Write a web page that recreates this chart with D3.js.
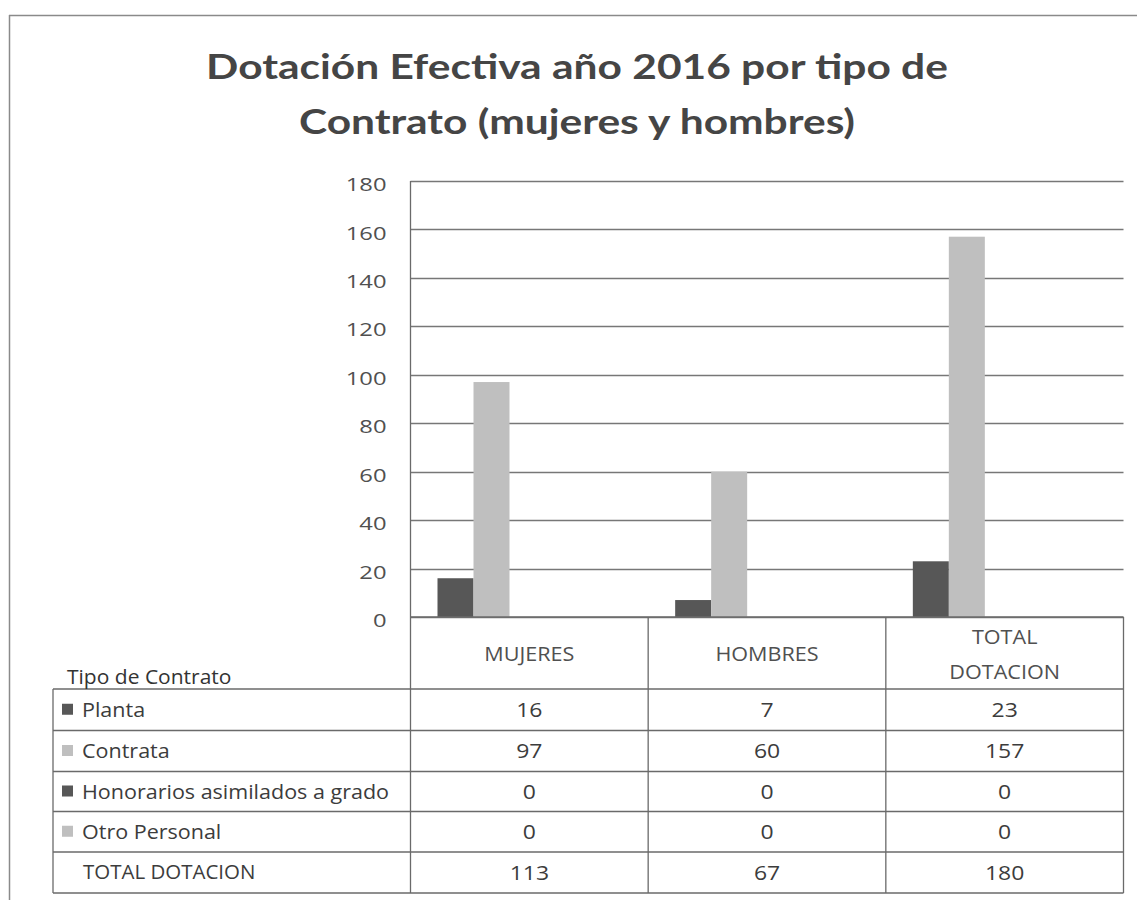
<!DOCTYPE html>
<html>
<head>
<meta charset="utf-8">
<script src="https://cdn.jsdelivr.net/npm/d3@7"></script>
<style>
  html, body { margin: 0; padding: 0; background: #fff; }
  svg { display: block; }
</style>
</head>
<body>
<svg id="chart" width="1137" height="900"></svg>
<script>
// ---- data ----
const titleLines = ["Dotación Efectiva año 2016 por tipo de", "Contrato (mujeres y hombres)"];
const categories = ["MUJERES", "HOMBRES", "TOTAL DOTACION"];
const categoryLabelLines = [["MUJERES"], ["HOMBRES"], ["TOTAL", "DOTACION"]];
const seriesNames = ["Planta", "Contrata", "Honorarios asimilados a grado", "Otro Personal"];
const planta = [16, 7, 23];
const contrata = [97, 60, 157];
const honorarios = [0, 0, 0];
const otroPersonal = [0, 0, 0];
const totalLabel = "TOTAL DOTACION";
const totals = [113, 67, 180];
const yTicks = [0, 20, 40, 60, 80, 100, 120, 140, 160, 180];
const tableTitle = "Tipo de Contrato";
const seriesColors = ["#575757", "#bfbfbf", "#575757", "#bfbfbf"];

const seriesValues = [planta, contrata, honorarios, otroPersonal];

// ---- layout ----
const svg = d3.select("#chart");
svg.append("rect").attr("width", 1137).attr("height", 900).attr("fill", "#fff");

const plotLeft = 410.5, plotRight = 1123.5, plotTop = 181, plotBottom = 617;
const tableLeft = 53;
const rowEdges = [689, 730.5, 771.5, 811.5, 852, 893];
const font = "'Open Sans', 'Noto Sans', sans-serif";

function stretchedText(parent, x, y, str, opts) {
  return parent.append("text")
    .attr("transform", `translate(${x},${y}) scale(${opts.sx || 1},1)`)
    .attr("text-anchor", opts.anchor || "start")
    .attr("dy", opts.dy || "0.35em")
    .attr("font-family", opts.family || font)
    .attr("font-size", opts.size)
    .attr("font-weight", opts.weight || "normal")
    .attr("fill", opts.fill || "#3c3c3c")
    .text(str);
}

// outer frame
svg.append("line").attr("x1", 9).attr("x2", 1137).attr("y1", 15.5).attr("y2", 15.5)
  .attr("stroke", "#8a8a8a").attr("stroke-width", 1.5);
svg.append("line").attr("x1", 9.5).attr("x2", 9.5).attr("y1", 15).attr("y2", 900)
  .attr("stroke", "#8a8a8a").attr("stroke-width", 1.5);

// title
const titleG = svg.append("g");
const titleFamily = "Lato, 'Open Sans', sans-serif";
const t1 = titleG.append("text").attr("x", 0).attr("y", 0)
  .attr("font-family", titleFamily).attr("font-weight", "bold").attr("font-size", 34)
  .text(titleLines[0]);
const natural = t1.node().getComputedTextLength();
const tsx = 742 / natural;
t1.remove();
titleLines.forEach((line, i) => {
  titleG.append("text")
    .attr("transform", `translate(577,${79 + i * 55}) scale(${tsx},1)`)
    .attr("text-anchor", "middle")
    .attr("font-family", titleFamily).attr("font-weight", "bold").attr("font-size", 34)
    .attr("fill", "#454545")
    .text(line);
});

// scales
const y = d3.scaleLinear().domain([0, 180]).range([plotBottom, plotTop]);
const x0 = d3.scaleBand().domain(categories).range([plotLeft, plotRight]).padding(0);
const barW = 36;
const x1 = d3.scaleBand().domain(seriesNames).range([27, 27 + barW * seriesNames.length]).padding(0);

// gridlines
const grid = svg.append("g");
grid.selectAll("line").data(yTicks).join("line")
  .attr("x1", plotLeft).attr("x2", plotRight)
  .attr("y1", d => Math.round(y(d)) + 0.5).attr("y2", d => Math.round(y(d)) + 0.5)
  .attr("stroke", "#777").attr("stroke-width", 1.3);

// y axis labels (via d3 axis)
const yAxis = d3.axisLeft(y).tickValues(yTicks).tickSize(0).tickPadding(0);
const yAxisG = svg.append("g").attr("transform", `translate(${plotLeft},0)`).call(yAxis);
yAxisG.select(".domain").remove();
yAxisG.selectAll(".tick text")
  .attr("x", null).attr("dy", "0.35em")
  .attr("transform", "translate(-24,3) scale(1.25,1)")
  .attr("font-family", font).attr("font-size", 19).attr("fill", "#505050");

// bars
const barsG = svg.append("g");
categories.forEach((cat, ci) => {
  seriesNames.forEach((s, si) => {
    const v = seriesValues[si][ci];
    barsG.append("rect")
      .attr("x", x0(cat) + x1(s))
      .attr("width", x1.bandwidth())
      .attr("y", y(v))
      .attr("height", y(0) - y(v))
      .attr("fill", seriesColors[si]);
  });
});

// table lines
const tbl = svg.append("g").attr("stroke", "#6a6a6a").attr("stroke-width", 1.3).attr("fill", "none");
const colEdges = [plotLeft].concat(categories.map(c => x0(c) + x0.bandwidth()));
colEdges.forEach((cx, i) => {
  tbl.append("line").attr("x1", cx).attr("x2", cx)
    .attr("y1", i === 0 ? plotTop : plotBottom).attr("y2", rowEdges[rowEdges.length - 1]);
});
tbl.append("line").attr("x1", tableLeft).attr("x2", tableLeft)
  .attr("y1", rowEdges[0]).attr("y2", rowEdges[rowEdges.length - 1]);
tbl.append("line").attr("x1", plotLeft).attr("x2", plotRight).attr("y1", y(0)).attr("y2", y(0));
rowEdges.forEach(ry => {
  tbl.append("line").attr("x1", tableLeft).attr("x2", plotRight).attr("y1", ry).attr("y2", ry);
});

// header labels
const txt = svg.append("g");
categories.forEach((cat, ci) => {
  const cx = x0(cat) + x0.bandwidth() / 2;
  const lines = categoryLabelLines[ci];
  const mid = (plotBottom + rowEdges[0]) / 2 + 1;
  lines.forEach((ln, li) => {
    const ly = mid + (li - (lines.length - 1) / 2) * 35;
    stretchedText(txt, cx, ly, ln, { anchor: "middle", size: 20, sx: 1.08, fill: "#505050" });
  });
});

// table title
stretchedText(txt, 67, 677, tableTitle, { size: 20, sx: 1.05, fill: "#333" });

// rows
seriesNames.forEach((s, si) => {
  const cy = (rowEdges[si] + rowEdges[si + 1]) / 2;
  txt.append("rect").attr("x", 62).attr("y", cy - 6).attr("width", 11).attr("height", 11)
    .attr("fill", seriesColors[si]);
  stretchedText(txt, 82, cy, s, { size: 20.5, sx: 1.05 });
  categories.forEach((cat, ci) => {
    stretchedText(txt, x0(cat) + x0.bandwidth() / 2, cy, String(seriesValues[si][ci]),
      { anchor: "middle", size: 20.5, sx: 1.12 });
  });
});
{
  const cy = (rowEdges[4] + rowEdges[5]) / 2;
  stretchedText(txt, 83, cy, totalLabel, { size: 19.5, sx: 1.05 });
  categories.forEach((cat, ci) => {
    stretchedText(txt, x0(cat) + x0.bandwidth() / 2, cy, String(totals[ci]),
      { anchor: "middle", size: 20.5, sx: 1.12 });
  });
}
</script>
</body>
</html>
